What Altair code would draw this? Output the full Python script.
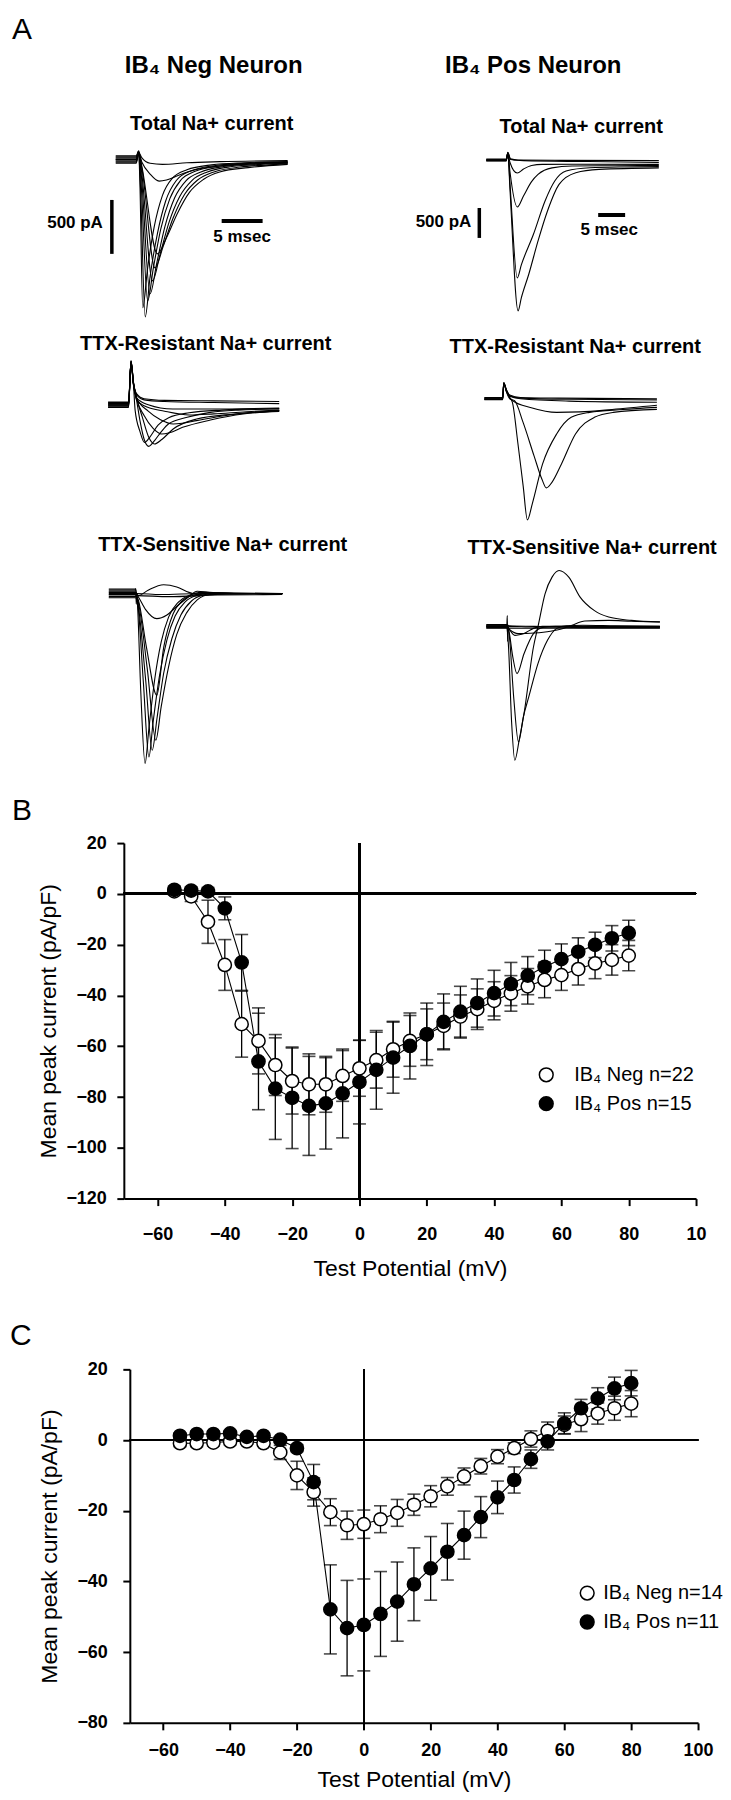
import altair as alt
import pandas as pd

FONT = "Liberation Sans"

# ---------------- Panel A : current traces (t = ms after step onset, I = pA) ----------------
neg_total = {
    "a": [(-2.7, 10), (-0.2, 10), (0.1, 70), (0.5, 20), (1.5, -30), (3.0, -40), (6.0, -25), (10.0, -15), (18.3, -5)],
    "b": [(-2.7, 0), (-0.2, 0), (0.1, 60), (0.5, -20), (1.5, -130), (2.6, -195), (3.5, -185), (5.0, -140), (7.0, -90), (10.0, -55), (14.0, -35), (18.3, -25)],
    "c": [(-2.7, 20), (-0.2, 20), (0.1, 80), (0.25, -200), (0.6, -1370), (1.2, -1000), (2.0, -620), (3.0, -330), (4.2, -170), (6.0, -90), (9.0, -45), (13.0, -25), (18.3, -15)],
    "d": [(-2.7, -10), (-0.2, -10), (0.1, 70), (0.3, -200), (0.9, -1454), (1.5, -1080), (2.4, -680), (3.4, -380), (4.7, -190), (6.5, -100), (9.5, -50), (13.5, -28), (18.3, -18)],
    "e": [(-2.7, 30), (-0.2, 30), (0.1, 80), (0.35, -150), (1.2, -1306), (1.9, -1000), (2.8, -640), (3.9, -360), (5.2, -190), (7.0, -105), (10.0, -55), (14.0, -30), (18.3, -20)],
    "f": [(-2.7, -20), (-0.2, -20), (0.1, 60), (0.4, -120), (1.5, -1240), (2.3, -960), (3.3, -620), (4.5, -350), (5.9, -190), (7.7, -110), (10.5, -60), (14.5, -35), (18.3, -25)],
    "g": [(-2.7, 5), (-0.2, 5), (0.1, 75), (0.45, -100), (1.8, -1120), (2.7, -880), (3.8, -580), (5.1, -340), (6.6, -190), (8.5, -110), (11.5, -60), (15.0, -40), (18.3, -30)],
    "h": [(-2.7, -30), (-0.2, -30), (0.1, 55), (0.5, -80), (2.1, -1000), (3.1, -800), (4.3, -540), (5.7, -320), (7.3, -185), (9.3, -110), (12.5, -65), (16.0, -45), (18.3, -35)],
    "i": [(-2.7, 40), (-0.2, 40), (0.1, 85), (0.5, -60), (2.4, -870), (3.5, -720), (4.8, -500), (6.3, -300), (8.0, -180), (10.0, -110), (13.5, -70), (18.3, -40)],
}
pos_total = {
    "a": [(-3.9, 0), (-0.2, 0), (0.1, 130), (0.6, 20), (2.0, 0), (10.0, -5), (28.1, -10)],
    "b": [(-3.9, 15), (-0.2, 15), (0.1, 120), (0.6, 10), (3.0, -10), (15.0, -25), (28.1, -40)],
    "c": [(-3.9, -10), (-0.2, -10), (0.1, 110), (0.5, -40), (1.85, -217), (3.0, -150), (4.5, -90), (6.5, -72), (12.0, -70), (28.1, -72)],
    "d": [(-3.9, 0), (-0.2, 0), (0.1, 120), (0.5, -200), (1.85, -783), (3.0, -600), (4.5, -360), (5.7, -240), (8.3, -130), (12.0, -100), (20.0, -95), (28.1, -90)],
    "e": [(-3.9, -15), (-0.2, -15), (0.1, 110), (0.5, -400), (1.85, -1967), (2.6, -1750), (4.85, -1239), (7.0, -683), (8.8, -350), (10.9, -183), (15.3, -128), (22.0, -115), (28.1, -110)],
    "f": [(-3.9, 5), (-0.2, 5), (0.1, 120), (0.5, -500), (2.0, -2517), (2.6, -2300), (3.98, -1906), (5.7, -1350), (7.45, -850), (9.6, -406), (12.7, -211), (17.0, -156), (28.1, -130)],
}
neg_resistant = {
    "a": [(-2.9, -20), (-0.4, -20), (-0.1, 400), (0.2, 200), (0.6, 100), (1.5, 55), (4.0, 40), (10.0, 35), (18.0, 30)],
    "b": [(-2.9, 20), (-0.4, 20), (-0.1, 380), (0.2, 190), (0.6, 90), (1.5, 45), (4.0, 30), (10.0, 20), (18.0, 10)],
    "c": [(-2.9, 0), (-0.4, 0), (-0.1, 390), (0.2, 180), (0.6, 60), (2.0, 0), (5.0, -40), (10.0, -40), (18.0, -30)],
    "d": [(-2.9, 10), (-0.4, 10), (-0.1, 400), (0.2, 200), (0.5, 80), (1.0, -150), (1.5, -320), (2.07, -386), (2.8, -330), (3.6, -250), (4.47, -179), (6.76, -117), (9.6, -71), (13.0, -50), (18.0, -40)],
    "e": [(-2.9, -10), (-0.4, -10), (-0.1, 410), (0.2, 210), (0.6, 60), (1.3, -120), (2.0, -290), (2.76, -364), (3.7, -320), (5.05, -225), (7.9, -133), (12.5, -86), (18.0, -55)],
    "f": [(-2.9, 25), (-0.4, 25), (-0.1, 395), (0.2, 200), (0.6, 50), (1.5, -100), (2.6, -220), (3.62, -272), (4.6, -260), (6.2, -210), (9.6, -142), (13.6, -86), (18.0, -62)],
    "g": [(-2.9, -25), (-0.4, -25), (-0.1, 405), (0.2, 200), (0.6, 60), (2.0, -60), (3.5, -140), (5.05, -179), (6.3, -170), (7.9, -148), (11.3, -102), (18.0, -55)],
    "h": [(-2.9, 5), (-0.4, 5), (-0.1, 390), (0.2, 190), (0.6, 40), (1.5, -10), (4.0, -60), (7.0, -95), (10.0, -85), (14.0, -65), (18.0, -50)],
    "i": [(-2.9, -5), (-0.4, -5), (-0.1, 400), (0.2, 190), (0.4, -50), (1.0, -250), (1.55, -350), (2.2, -300), (3.2, -190), (4.5, -120), (7.0, -75), (11.0, -50), (18.0, -35)],
}
pos_resistant = {
    "a": [(-3.7, 0), (-0.3, 0), (-0.1, 260), (0.4, 150), (1.0, 60), (3.0, 20), (10.0, 10), (28.3, 0)],
    "b": [(-3.7, 20), (-0.3, 20), (-0.1, 270), (0.4, 140), (1.0, 50), (3.0, 10), (12.0, -10), (28.3, -20)],
    "c": [(-3.7, -15), (-0.3, -15), (-0.1, 250), (0.4, 130), (1.0, 40), (3.0, 0), (12.0, -40), (28.3, -60)],
    "d": [(-3.7, -5), (-0.3, -5), (-0.1, 255), (0.4, 120), (1.5, -30), (5.0, -150), (9.7, -228), (14.0, -220), (20.0, -180), (28.3, -110)],
    "e": [(-3.7, 10), (-0.3, 10), (-0.1, 265), (0.4, 130), (1.0, 20), (1.5, -60), (2.5, -730), (3.5, -1460), (4.28, -2022), (5.2, -1750), (7.1, -1089), (9.7, -589), (12.4, -311), (15.8, -228), (22.0, -180), (28.3, -144)],
    "f": [(-3.7, -10), (-0.3, -10), (-0.1, 250), (0.4, 110), (1.0, 0), (1.9, -33), (3.5, -400), (5.5, -950), (7.0, -1350), (7.8, -1489), (8.8, -1400), (10.6, -1089), (13.2, -589), (16.7, -311), (20.2, -228), (28.3, -178)],
}
neg_sensitive = {
    "a": [(-3.3, 30), (-0.05, 30), (0.0, 45), (0.05, -100), (0.15, 0), (3.0, -10), (8.0, 0), (17.9, 0)],
    "b": [(-3.3, -30), (-0.05, -30), (0.15, -20), (4.0, -30), (10.0, -15), (17.9, -10)],
    "c": [(-3.3, 0), (-0.05, 0), (0.3, -20), (1.5, 30), (3.4, 80), (5.0, 60), (6.5, 10), (8.0, -15), (11.0, -5), (17.9, 0)],
    "d": [(-3.3, 10), (-0.05, 10), (0.3, -30), (1.2, -150), (2.56, -234), (3.8, -200), (5.0, -120), (6.3, -40), (7.5, 20), (9.0, 10), (12.0, 0), (17.9, 0)],
    "e": [(-3.3, -10), (-0.05, -10), (0.3, -60), (1.3, -500), (2.56, -944), (3.41, -497), (4.56, -188), (5.7, -65), (6.9, -19), (9.0, 0), (17.9, 0)],
    "f": [(-3.3, 40), (-0.05, 40), (0.2, -100), (0.6, -900), (1.13, -1577), (1.6, -1250), (2.3, -800), (3.1, -450), (4.0, -220), (5.2, -80), (6.5, -20), (8.0, 10), (12.0, 0), (17.9, 0)],
    "g": [(-3.3, -40), (-0.05, -40), (0.2, -80), (0.9, -800), (1.6, -1516), (2.1, -1200), (2.9, -760), (3.8, -430), (4.8, -210), (6.0, -80), (7.4, -20), (9.0, 0), (17.9, 0)],
    "h": [(-3.3, 15), (-0.05, 15), (0.2, -60), (1.2, -800), (2.0, -1454), (2.6, -1150), (3.4, -740), (4.4, -420), (5.5, -200), (6.8, -70), (8.2, -15), (10.0, 5), (17.9, 0)],
    "i": [(-3.3, -15), (-0.05, -15), (0.2, -50), (1.4, -700), (2.44, -1361), (3.1, -1050), (4.0, -680), (5.0, -380), (6.2, -180), (7.5, -60), (9.0, -10), (17.9, 0)],
}
pos_sensitive = {
    "a": [(-3.9, 0), (-0.1, 0), (0.0, 180), (0.05, -250), (0.2, 0), (5.0, -10), (15.0, -10), (28.3, -10)],
    "b": [(-3.9, 30), (-0.1, 30), (0.3, 10), (5.0, 0), (15.0, -20), (28.3, -20)],
    "c": [(-3.9, -30), (-0.1, -30), (0.3, -30), (5.0, -30), (15.0, -30), (28.3, -30)],
    "d": [(-3.9, 10), (-0.1, 10), (0.3, -40), (1.39, -150), (2.2, -140), (3.1, -117), (4.85, -33), (6.5, 0), (12.0, 0), (28.3, -10)],
    "e": [(-3.9, -10), (-0.1, -10), (0.5, -60), (2.0, -120), (5.0, -110), (8.0, -80), (10.5, -30), (12.0, 20), (14.4, 90), (18.8, 100), (23.0, 85), (28.3, 75)],
    "f": [(-3.9, 0), (-0.1, 0), (0.3, -80), (1.0, -500), (1.8, -789), (3.1, -456), (4.85, -122), (6.6, -17), (9.0, 0), (28.3, 0)],
    "g": [(-3.9, 20), (-0.1, 20), (0.3, -100), (1.2, -1200), (2.07, -1928), (3.0, -1500), (3.98, -1178), (5.7, -617), (7.45, -233), (9.2, -33), (11.0, 10), (14.0, 20), (20.0, 10), (28.3, 0)],
    "h": [(-3.9, -20), (-0.1, -20), (0.2, -300), (0.8, -1600), (1.39, -2234), (2.2, -1900), (3.1, -1456), (4.85, -344), (5.7, 0), (7.0, 544), (8.3, 822), (9.6, 933), (11.4, 822), (13.5, 489), (16.1, 267), (18.8, 156), (23.0, 100), (28.3, 72)],
}
# scale bars (500 pA, 5 msec) in the data units of each "Total" panel
neg_bar_v = {"t": -3.17, "I1": -370, "I2": -870}
neg_bar_h = {"t1": 10.24, "t2": 15.24, "I": -565}
neg_bar_labels = [("500 pA", -4.27, -583, "right"), ("5 msec", 12.74, -713, "center")]
pos_bar_v = {"t": -5.19, "I1": -800, "I2": -1300}
pos_bar_h = {"t1": 16.85, "t2": 21.85, "I": -917}
pos_bar_labels = [("500 pA", -6.67, -1033, "right"), ("5 msec", 18.9, -1167, "center")]

# ---------------- Panels B and C : I-V relations ----------------
test_mv = [-55, -50, -45, -40, -35, -30, -25, -20, -15, -10, -5, 0, 5, 10, 15, 20, 25, 30, 35, 40, 45, 50, 55, 60, 65, 70, 75, 80]

b_labels = ["IB\u2084 Neg n=22", "IB\u2084 Pos n=15"]
b_neg_mean = [1, -1, -11, -28, -51.3, -57.9, -67.4, -73.7, -75, -75, -71.7, -68.7, -65.5, -61.2, -57.9, -55.3, -52, -48.3, -45.4, -42.1, -39.2, -36.4, -33.9, -32, -29.6, -27.4, -26, -24.3]
b_neg_err = [1.5, 2, 8.5, 10, 13, 13, 12, 13, 12, 11, 10, 11, 11, 11, 10, 10, 9, 8.5, 8, 7.5, 7, 7, 7, 6, 6.3, 6, 6, 6]
b_pos_mean = [1.6, 1.3, 1, -5.7, -27, -66, -76.7, -80.3, -83.5, -82.5, -78.6, -74.1, -69.3, -64.5, -59.9, -55.3, -50.4, -46.4, -43, -39.1, -35.5, -32.2, -28.7, -25.7, -22.8, -20.1, -17.5, -15.4]
b_pos_err = [1.5, 1.5, 1.5, 4.5, 11, 19, 20, 20, 19.5, 18, 17.5, 16.5, 15.5, 14, 13, 12.3, 11, 10, 9.5, 9, 8.5, 7.5, 6.5, 6, 5.5, 5, 5, 5]

c_labels = ["IB\u2084 Neg n=14", "IB\u2084 Pos n=11"]
c_neg_mean = [-0.9, -0.9, -0.7, -0.4, -0.4, -0.9, -3.5, -10, -14.7, -20.4, -24.1, -23.8, -22.4, -20.6, -18.3, -15.9, -13.1, -10.3, -7.4, -4.7, -2.3, 0.3, 2.6, 4.3, 5.9, 7.5, 9, 10.3]
c_neg_err = [1, 1, 1, 1, 0.8, 0.8, 2, 4, 4, 3.8, 4, 4, 3.8, 3.8, 3, 3, 2.5, 2.4, 2.2, 2, 1.5, 2.3, 2.5, 2.5, 3.5, 3, 3.4, 3.7]
c_pos_mean = [1.2, 1.7, 1.7, 1.9, 0.9, 1.2, 0.1, -2.3, -11.9, -47.9, -53.2, -52.3, -49.2, -45.7, -40.8, -36.3, -31.6, -26.9, -21.8, -16.2, -11.3, -5.4, -0.4, 4.7, 9, 11.8, 14.6, 16.1]
c_pos_err = [0.8, 0.8, 0.8, 0.8, 0.8, 0.8, 0.8, 1, 5, 12.6, 13.5, 13, 12, 11.2, 10.3, 9, 8, 6.8, 5.8, 4.6, 3.7, 2.6, 2.4, 3, 2.5, 3, 3.2, 3.6]


# ---------------- helpers ----------------
def spacer(w, h, title=None):
    c = alt.Chart(pd.DataFrame({"v": [0]})).mark_point(size=1, opacity=0).encode(
        x=alt.value(w / 2), y=alt.value(h / 2)).properties(width=w, height=h)
    if title is not None:
        c = c.properties(title=title)
    return c


def label_title(text, size, weight, dx, offset, anchor="middle"):
    return alt.TitleParams(text=text, font=FONT, fontSize=size, fontWeight=weight, color="black",
                           anchor=anchor, frame="group", dx=dx, offset=offset, baseline="alphabetic")


def trace_panel(traces, xdom, ydom, w, h, title, bars=None):
    rows = []
    for name, pts in traces.items():
        for k, (t, i) in enumerate(pts):
            rows.append({"trace": name, "k": k, "t": t, "I": i})
    df = pd.DataFrame(rows)
    xs = alt.Scale(domain=xdom, nice=False, zero=False)
    ys = alt.Scale(domain=ydom, nice=False, zero=False)
    layers = [alt.Chart(df).mark_line(color="black", strokeWidth=1.1, interpolate="monotone").encode(
        x=alt.X("t:Q", scale=xs, axis=None), y=alt.Y("I:Q", scale=ys, axis=None),
        detail="trace:N", order="k:Q")]
    if bars is not None:
        bv, bh, bl = bars
        layers.append(alt.Chart(pd.DataFrame([bv])).mark_rule(color="black", strokeWidth=3.5).encode(
            x=alt.X("t:Q", scale=xs, axis=None), y=alt.Y("I1:Q", scale=ys, axis=None), y2="I2:Q"))
        layers.append(alt.Chart(pd.DataFrame([bh])).mark_rule(color="black", strokeWidth=4).encode(
            x=alt.X("t1:Q", scale=xs, axis=None), x2="t2:Q", y=alt.Y("I:Q", scale=ys, axis=None)))
        for lab, t, i, al in bl:
            layers.append(alt.Chart(pd.DataFrame([{"lab": lab, "t": t, "I": i}])).mark_text(
                align=al, baseline="middle", font=FONT, fontSize=17, fontWeight="bold", color="black").encode(
                x=alt.X("t:Q", scale=xs, axis=None), y=alt.Y("I:Q", scale=ys, axis=None), text="lab:N"))
    return alt.layer(*layers).properties(width=w, height=h, title=title)


def iv_panel(labels, neg_mean, neg_err, pos_mean, pos_err, ydom, w, h, lx, ly, lab_off,
             xlabpad, xtitlepad, ylabpad, ytitlepad, xlabelexpr):
    rows = []
    for s, m, e in [(labels[0], neg_mean, neg_err), (labels[1], pos_mean, pos_err)]:
        for v, mm, ee in zip(test_mv, m, e):
            rows.append({"series": s, "V": v, "I": mm, "err": ee})
    df = pd.DataFrame(rows)
    xs = alt.Scale(domain=[-70, 100], nice=False, zero=False)
    ys = alt.Scale(domain=ydom, nice=False, zero=False)
    xaxis = alt.Axis(values=list(range(-60, 101, 20)), title="Test Potential (mV)", grid=False,
                     labelFont=FONT, labelFontSize=18, labelFontWeight="bold", labelColor="black",
                     labelPadding=xlabpad, labelExpr=xlabelexpr, tickSize=7, tickWidth=2, tickColor="black",
                     domainColor="black", domainWidth=2, titleFont=FONT, titleFontSize=23,
                     titleFontWeight="normal", titleColor="black", titlePadding=xtitlepad, labelFlush=False,
                     labelOverlap=False)
    yaxis = alt.Axis(values=list(range(ydom[0], ydom[1] + 1, 20)), title="Mean peak current (pA/pF)",
                     grid=False, labelFont=FONT, labelFontSize=18, labelFontWeight="bold",
                     labelColor="black", labelPadding=ylabpad, tickSize=7, tickWidth=2, tickColor="black",
                     domainColor="black", domainWidth=2, titleFont=FONT, titleFontSize=23,
                     titleFontWeight="normal", titleColor="black", titlePadding=ytitlepad, labelFlush=False,
                     labelOverlap=False)
    X = alt.X("V:Q", scale=xs, axis=xaxis)
    base = alt.Chart(df).transform_calculate(lo="datum.I - datum.err", hi="datum.I + datum.err")
    hline = alt.Chart(df).mark_rule(color="black", strokeWidth=2).encode(y=alt.datum(0))
    vline = alt.Chart(df).mark_rule(color="black", strokeWidth=1.5).encode(x=alt.datum(0))
    bars = base.mark_rule(color="black", strokeWidth=1.3).encode(
        x=X, y=alt.Y("lo:Q", scale=ys, axis=yaxis), y2="hi:Q")
    cap_lo = base.mark_tick(color="black", orient="horizontal", size=13, thickness=1.6).encode(
        x=X, y=alt.Y("lo:Q", scale=ys, axis=yaxis))
    cap_hi = base.mark_tick(color="black", orient="horizontal", size=13, thickness=1.6).encode(
        x=X, y=alt.Y("hi:Q", scale=ys, axis=yaxis))
    line = alt.Chart(df).mark_line(color="black", strokeWidth=1.1).encode(
        x=X, y=alt.Y("I:Q", scale=ys, axis=yaxis), detail="series:N", order="V:Q")
    pts = alt.Chart(df).mark_point(shape="circle", filled=True, size=175, stroke="black",
                                    strokeWidth=1.5, opacity=1).encode(
        x=X, y=alt.Y("I:Q", scale=ys, axis=yaxis),
        fill=alt.Fill("series:N", scale=alt.Scale(domain=labels, range=["white", "black"]),
                      legend=alt.Legend(title=None, orient="none", legendX=lx, legendY=ly,
                                        symbolType="circle", symbolSize=190, symbolStrokeColor="black",
                                        symbolStrokeWidth=1.5, labelFont=FONT, labelFontSize=20,
                                        labelColor="black", rowPadding=9, labelOffset=lab_off)))
    return alt.layer(hline, vline, bars, cap_lo, cap_hi, line, pts).properties(width=w, height=h)


# ---------------- assemble ----------------
sub = lambda text, dx, off: label_title(text, 20, "bold", dx, off)
IND = dict(x="independent", y="independent", fill="independent")

neg_col = alt.vconcat(
    spacer(320, 132, label_title("IB\u2084 Neg Neuron", 24, "bold", 14, -88)),
    trace_panel(neg_total, [-11.951, 27.073], [-1537, 176], 320, 185, sub("Total Na+ current", 12, -9),
                bars=(neg_bar_v, neg_bar_h, neg_bar_labels)),
    spacer(320, 31),
    trace_panel(neg_resistant, [-11.220, 27.805], [-518.5, 444.4], 320, 104,
                sub("TTX-Resistant Na+ current", 6, -13)),
    spacer(320, 100),
    trace_panel(neg_sensitive, [-11.707, 27.317], [-1638.9, 305.6], 320, 210,
                sub("TTX-Sensitive Na+ current", 23, -11)),
    spacing=0, bounds="flush").resolve_scale(**IND)

pos_col = alt.vconcat(
    spacer(310, 132, label_title("IB\u2084 Pos Neuron", 24, "bold", -26, -88)),
    trace_panel(pos_total, [-19.074, 38.333], [-2767, 317], 310, 185, sub("Total Na+ current", 22, -12),
                bars=(pos_bar_v, pos_bar_h, pos_bar_labels)),
    spacer(310, 31),
    trace_panel(pos_resistant, [-18.519, 38.889], [-2200, 700], 310, 174,
                sub("TTX-Resistant Na+ current", 16, -16)),
    spacer(310, 30),
    trace_panel(pos_sensitive, [-19.074, 38.333], [-2400, 1100], 310, 210,
                sub("TTX-Sensitive Na+ current", 33, -14)),
    spacing=0, bounds="flush").resolve_scale(**IND)

panel_a = alt.hconcat(
    spacer(32, 762, label_title("A", 30, "normal", 4, -60, anchor="start")),
    neg_col, spacer(45, 762), pos_col, spacing=0).resolve_scale(**IND)

panel_b = iv_panel(b_labels, b_neg_mean, b_neg_err, b_pos_mean, b_pos_err, [-120, 20], 573, 356,
                   413, 222, 18, 20, 14, 10.5, 5.5,
                   "datum.value == 100 ? '10' : datum.label")
row_b = alt.hconcat(spacer(116, 450), panel_b, spacing=0, bounds="flush").resolve_scale(**IND)

panel_c = iv_panel(c_labels, c_neg_mean, c_neg_err, c_pos_mean, c_pos_err, [-80, 20], 569, 354,
                   448, 214, 6, 11.6, 9.4, 15.5, 15.5, "datum.label")
row_c = alt.hconcat(spacer(122, 430), panel_c, spacing=0, bounds="flush").resolve_scale(**IND)

chart = alt.vconcat(
    panel_a,
    spacer(10, 64, label_title("B", 30, "normal", 4, -80, anchor="start")),
    row_b,
    spacer(10, 68, label_title("C", 30, "normal", 2, -83, anchor="start")),
    row_c,
    spacing=0).resolve_scale(**IND).properties(
    padding={"left": 0, "top": 0, "right": 0, "bottom": 0}).configure_view(stroke="transparent", strokeWidth=0)

chart.save("out.html", embed_options={"renderer": "svg", "actions": False})
